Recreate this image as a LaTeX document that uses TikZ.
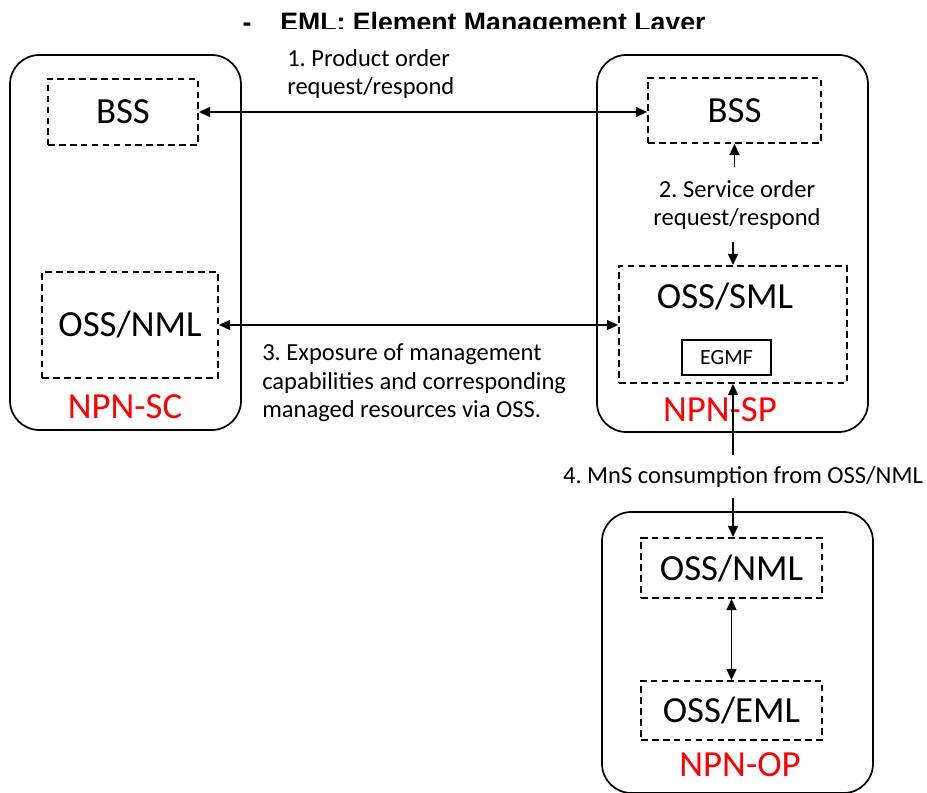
\documentclass[tikz,border=0pt]{standalone}
\usepackage{fontspec}
\setmainfont{Carlito}
\newfontfamily\titlefont{Liberation Sans}
\usetikzlibrary{arrows.meta,calc}
\frenchspacing
\begin{document}
\begin{tikzpicture}[x=0.75pt,y=-0.75pt,
  outerbox/.style={draw,line width=1.3pt,rounded corners=22pt,inner sep=0pt},
  dbox/.style={draw,line width=1.3pt,dash pattern=on 5pt off 3.2pt,inner sep=0pt,font=\fontsize{27.6}{30}\selectfont},
  sbox/.style={draw,line width=1.2pt,inner sep=0pt,font=\fontsize{16.3}{18}\selectfont},
  bigtxt/.style={font=\fontsize{27.6}{30}\selectfont,inner sep=0pt},
  redtxt/.style={font=\fontsize{27.6}{30}\selectfont,text=red,inner sep=0pt},
  lbl/.style={font=\fontsize{18.4}{21.5}\selectfont\frenchspacing,inner sep=0pt},
  conn/.style={line width=1.3pt,-{Triangle[length=8.5pt,width=7.5pt]}},
  biconn/.style={line width=1.3pt,{Triangle[length=8.5pt,width=7.5pt]}-{Triangle[length=8.5pt,width=7.5pt]}}]
\useasboundingbox (0,0) rectangle (927,792);
% title (cut at its lower part)
\begin{scope}
\clip (0,0) rectangle (927,28.5);
\node[anchor=base,font=\titlefont\bfseries\fontsize{20}{24}\selectfont,inner sep=0pt] (dash) at (247,32) {-};
\node[anchor=base west,font=\titlefont\bfseries\fontsize{20}{24}\selectfont,inner sep=0pt] (title) at (280,32) {EML: Element Management Layer};
\end{scope}
% NPN-SC
\node[outerbox,minimum width=173.25pt,minimum height=281.25pt] (sc) at (125.5,242.5) {};
\node[dbox,minimum width=112.5pt,minimum height=49.5pt] (lbss) at (123,112) {BSS};
\node[dbox,minimum width=132pt,minimum height=79.5pt] (lnml) at (130,325) {OSS/NML};
\node[redtxt] (sclbl) at (125,407) {NPN-SC};
% NPN-SP
\node[outerbox,minimum width=203.25pt,minimum height=282.75pt] (sp) at (732.5,243.5) {};
\node[dbox,minimum width=129.75pt,minimum height=48.75pt] (rbss) at (734.5,110.5) {BSS};
\node[dbox,minimum width=171pt,minimum height=87.75pt] (sml) at (733,324.5) {};
\node[bigtxt] (smltxt) at (725,297) {OSS/SML};
\node[sbox,minimum width=66.75pt,minimum height=26.25pt] (egmf) at (726.5,357.5) {EGMF};
\node[redtxt] (splbl) at (720,410) {NPN-SP};
% NPN-OP
\node[outerbox,minimum width=203.25pt,minimum height=210.75pt] (op) at (737.5,652.5) {};
\node[dbox,minimum width=135.75pt,minimum height=45pt] (rnml) at (731.5,568) {OSS/NML};
\node[dbox,minimum width=135.75pt,minimum height=44.25pt] (reml) at (731.5,710.5) {OSS/EML};
\node[redtxt] (oplbl) at (740,765) {NPN-OP};
% labels
\node[lbl,anchor=west,align=left] (l1) at (287,74) {1. Product order\\request/respond};
\node[lbl,align=center] (l2) at (737,205) {2. Service order\\request/respond};
\node[lbl,anchor=west,align=left] (l3) at (262,383) {3. Exposure of management\\capabilities and corresponding\\managed resources via OSS.};
\node[lbl] (l4) at (743,477) {4. MnS consumption from OSS/NML};
% connectors
\draw[biconn] (lbss.east) -- (lbss.east -| rbss.west);
\draw[biconn] (lnml.east) -- (lnml.east -| sml.west);
\coordinate (c2a) at (734.5,167);
\coordinate (c2b) at (733,242);
\draw[conn] (c2a) -- (rbss.south);
\draw[conn] (c2b) -- (sml.south |- sml.north);
\coordinate (c4a) at (733,455);
\coordinate (c4b) at (733,498);
\draw[conn] (c4a) -- (sml.south);
\draw[conn] (c4b) -- (c4b |- rnml.north);
\draw[biconn] (rnml.south) -- (reml.north);
\end{tikzpicture}
\end{document}
